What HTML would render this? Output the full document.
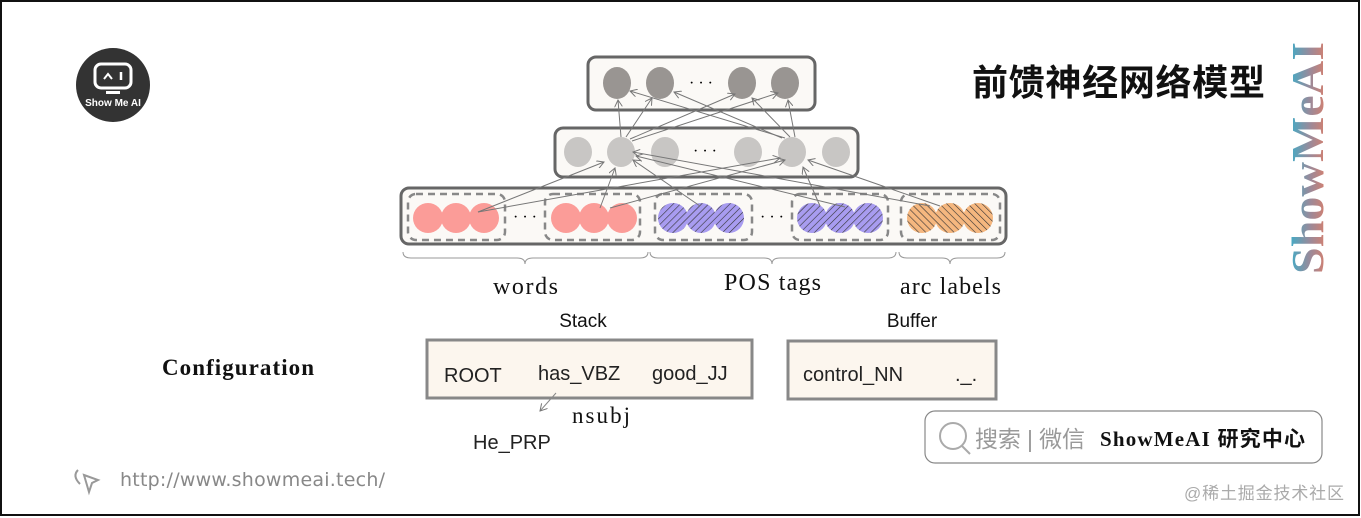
<!DOCTYPE html>
<html><head><meta charset="utf-8"><style>
html,body{margin:0;padding:0;background:#fff}
body{width:1361px;height:518px;overflow:hidden;position:relative}
</style></head><body>
<svg width="1361" height="518" viewBox="0 0 1361 518" xmlns="http://www.w3.org/2000/svg" style="position:absolute;left:0;top:0">
<defs>
<pattern id="hp" width="5" height="5" patternUnits="userSpaceOnUse" patternTransform="rotate(45)">
<rect width="5" height="5" fill="#a89cf0"/><line x1="0" y1="0" x2="0" y2="5" stroke="#333" stroke-width="1.2"/></pattern>
<pattern id="ho" width="5" height="5" patternUnits="userSpaceOnUse" patternTransform="rotate(-45)">
<rect width="5" height="5" fill="#f5b77f"/><line x1="0" y1="0" x2="0" y2="5" stroke="#333" stroke-width="1.2"/></pattern>
<marker id="ar" markerWidth="8" markerHeight="8" refX="7" refY="4" orient="auto" markerUnits="userSpaceOnUse">
<path d="M0,0 L7,4 L0,8" fill="none" stroke="#777" stroke-width="1"/></marker>
<linearGradient id="gv" x1="0" y1="1" x2="0" y2="0">
<stop offset="0" stop-color="#f07a5a"/><stop offset="0.45" stop-color="#9a8a9a"/><stop offset="1" stop-color="#20b8d8"/></linearGradient>
</defs>
<rect x="1" y="1" width="1358" height="514" fill="#fff" stroke="#111" stroke-width="2"/>
<circle cx="113" cy="85" r="37" fill="#333"/>
<rect x="95" y="64" width="36" height="24" rx="6" fill="none" stroke="#fff" stroke-width="3"/>
<path d="M104,79 l4,-5 l4,5" fill="none" stroke="#fff" stroke-width="2"/>
<line x1="121" y1="72" x2="121" y2="80" stroke="#fff" stroke-width="2.5"/>
<rect x="106" y="91" width="14" height="3" fill="#fff"/>
<text x="113" y="106" font-family="Liberation Sans,sans-serif" font-weight="bold" font-size="10" fill="#fff" text-anchor="middle">Show Me AI</text>
<text x="972" y="95" font-family="Liberation Sans,'Noto Sans CJK SC',sans-serif" font-weight="bold" font-size="36" fill="#111" textLength="293">前馈神经网络模型</text>
<text transform="translate(1323,274) rotate(-90)" font-family="Liberation Serif,serif" font-weight="bold" font-size="46" fill="url(#gv)" textLength="232" lengthAdjust="spacingAndGlyphs">ShowMeAI</text>
<rect x="588" y="57" width="227" height="53" rx="8" fill="#fbf9f6" stroke="#666" stroke-width="3"/>
<g fill="#999592"><ellipse cx="617" cy="83" rx="14" ry="16"/><ellipse cx="660" cy="83" rx="14" ry="16"/><ellipse cx="742" cy="83" rx="14" ry="16"/><ellipse cx="785" cy="83" rx="14" ry="16"/></g>
<text x="701" y="88" font-size="16" text-anchor="middle" font-family="Liberation Serif,serif">· · ·</text>
<rect x="555" y="128" width="303" height="49" rx="8" fill="#fbf9f6" stroke="#666" stroke-width="3"/>
<g fill="#c8c6c4"><ellipse cx="578" cy="152" rx="14" ry="15"/><ellipse cx="621" cy="152" rx="14" ry="15"/><ellipse cx="665" cy="152" rx="14" ry="15"/><ellipse cx="748" cy="152" rx="14" ry="15"/><ellipse cx="792" cy="152" rx="14" ry="15"/><ellipse cx="836" cy="152" rx="14" ry="15"/></g>
<text x="705" y="156" font-size="16" text-anchor="middle" font-family="Liberation Serif,serif">· · ·</text>
<rect x="401" y="188" width="605" height="56" rx="8" fill="#fbf9f6" stroke="#666" stroke-width="3"/>
<g fill="none" stroke="#888" stroke-width="2.5" stroke-dasharray="7,5">
<rect x="408" y="194" width="97" height="46" rx="8"/><rect x="545" y="194" width="95" height="46" rx="8"/><rect x="655" y="194" width="97" height="46" rx="8"/><rect x="792" y="194" width="96" height="46" rx="8"/><rect x="901" y="194" width="99" height="46" rx="8"/></g>
<g fill="#fb9c98"><circle cx="428" cy="218" r="15"/><circle cx="456" cy="218" r="15"/><circle cx="484" cy="218" r="15"/><circle cx="566" cy="218" r="15"/><circle cx="594" cy="218" r="15"/><circle cx="622" cy="218" r="15"/></g>
<g fill="url(#hp)"><circle cx="673" cy="218" r="15"/><circle cx="701" cy="218" r="15"/><circle cx="729" cy="218" r="15"/><circle cx="812" cy="218" r="15"/><circle cx="840" cy="218" r="15"/><circle cx="868" cy="218" r="15"/></g>
<g fill="url(#ho)"><circle cx="922" cy="218" r="15"/><circle cx="950" cy="218" r="15"/><circle cx="978" cy="218" r="15"/></g>
<text x="525" y="222" font-size="16" text-anchor="middle" font-family="Liberation Serif,serif">· · ·</text>
<text x="772" y="222" font-size="16" text-anchor="middle" font-family="Liberation Serif,serif">· · ·</text>
<g stroke="#777" stroke-width="1" fill="none" marker-end="url(#ar)">
<line x1="478" y1="212" x2="604" y2="162"/><line x1="478" y1="212" x2="780" y2="158"/>
<line x1="600" y1="208" x2="615" y2="168"/><line x1="610" y1="208" x2="785" y2="160"/>
<line x1="700" y1="206" x2="633" y2="160"/><line x1="845" y1="207" x2="636" y2="156"/>
<line x1="820" y1="206" x2="803" y2="167"/><line x1="930" y1="206" x2="633" y2="152"/>
<line x1="940" y1="206" x2="808" y2="160"/>
<line x1="621" y1="137" x2="618" y2="100"/><line x1="626" y1="137" x2="652" y2="98"/>
<line x1="630" y1="139" x2="735" y2="94"/><line x1="632" y1="141" x2="778" y2="93"/>
<line x1="785" y1="138" x2="630" y2="91"/><line x1="782" y1="138" x2="674" y2="92"/>
<line x1="790" y1="137" x2="752" y2="98"/><line x1="795" y1="137" x2="788" y2="100"/>
</g>
<g stroke="#999" stroke-width="1" fill="none">
<path d="M403,252 q0,6 8,6 L517,258 q8,0 8,6 q0,-6 8,-6 L640,258 q8,0 8,-6"/>
<path d="M650,252 q0,6 8,6 L764,258 q8,0 8,6 q0,-6 8,-6 L888,258 q8,0 8,-6"/>
<path d="M899,252 q0,6 8,6 L942,258 q8,0 8,6 q0,-6 8,-6 L997,258 q8,0 8,-6"/>
</g>
<g font-family="Liberation Serif,serif" font-size="24" fill="#111">
<text x="493" y="294" textLength="65">words</text><text x="724" y="290" textLength="97">POS tags</text><text x="900" y="294" textLength="101">arc labels</text>
</g>
<g font-family="Liberation Sans,sans-serif" font-size="19" fill="#111">
<text x="583" y="327" text-anchor="middle">Stack</text><text x="912" y="327" text-anchor="middle">Buffer</text>
</g>
<text x="162" y="375" font-family="Liberation Serif,serif" font-weight="bold" font-size="23" fill="#111" textLength="152">Configuration</text>
<rect x="427" y="340" width="325" height="58" fill="#fcf6ee" stroke="#888" stroke-width="3"/>
<rect x="788" y="341" width="208" height="58" fill="#fcf6ee" stroke="#888" stroke-width="3"/>
<g font-family="Liberation Sans,sans-serif" font-size="20" fill="#222">
<text x="444" y="382">ROOT</text><text x="538" y="380">has_VBZ</text><text x="652" y="380">good_JJ</text>
<text x="803" y="381">control_NN</text><text x="955" y="381">._.</text>
<text x="473" y="449">He_PRP</text>
</g>
<line x1="556" y1="393" x2="540" y2="411" stroke="#888" stroke-width="1" marker-end="url(#ar)"/>
<text x="572" y="423" font-family="Liberation Serif,serif" font-size="23" fill="#111" textLength="58">nsubj</text>
<rect x="925" y="411" width="397" height="52" rx="10" fill="#fff" stroke="#888" stroke-width="1.2"/>
<circle cx="953" cy="436" r="13" fill="none" stroke="#aaa" stroke-width="2"/>
<line x1="962" y1="446" x2="970" y2="454" stroke="#aaa" stroke-width="2"/>
<text x="975" y="447" font-family="Liberation Sans,'Noto Sans CJK SC',sans-serif" font-size="23" fill="#999" textLength="110">搜索 | 微信</text>
<text x="1100" y="446" font-family="Liberation Serif,'Noto Sans CJK SC',serif" font-weight="bold" font-size="21" fill="#111" textLength="205">ShowMeAI 研究中心</text>
<path d="M78,470 q-6,6 2,14 M84,475 l14,5 l-6,3 l-3,9 z" fill="none" stroke="#999" stroke-width="2"/>
<text x="120" y="486" font-family="DejaVu Sans,sans-serif" font-size="19" fill="#888" textLength="265">http://www.showmeai.tech/</text>
<text x="1184" y="499" font-family="Liberation Sans,'Noto Sans CJK SC',sans-serif" font-size="17" fill="#aaa" textLength="160">@稀土掘金技术社区</text>
</svg>
</body></html>
